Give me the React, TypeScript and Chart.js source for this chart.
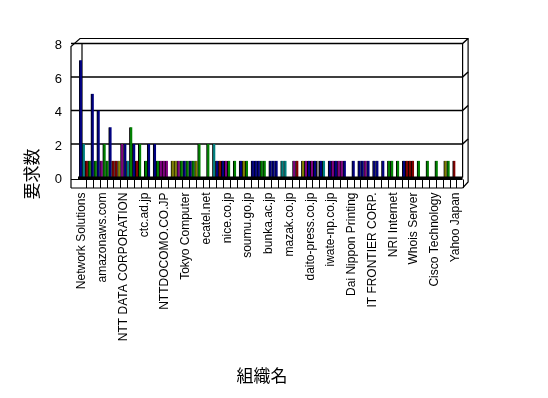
import React, { useEffect, useRef } from 'react';
import { Chart, registerables } from 'chart.js';

Chart.register(...registerables);

// Organisation names shown on the category axis (every 7th category is labelled)
const tickNames = [
  'Network Solutions', 'amazonaws.com', 'NTT DATA CORPORATION', 'ctc.ad.jp',
  'NTTDOCOMO.CO.JP', 'Tokyo Computer', 'ecatel.net', 'nice.co.jp', 'soumu.go.jp',
  'bunka.ac.jp', 'mazak.co.jp', 'daito-press.co.jp', 'iwate-np.co.jp',
  'Dai Nippon Printing', 'IT FRONTIER CORP.', 'NRI Internet', 'Whois Server',
  'Cisco Technology', 'Yahoo Japan',
];

// Request counts per organisation
const requestCounts = [
  7, 2, 1, 1, 5, 1, 4, 1, 2, 1, 3, 1, 1, 1, 2, 2, 1, 3, 2, 1,
  2, 0, 1, 2, 0, 2, 1, 1, 1, 1, 0, 1, 1, 1, 1, 1, 1, 1, 1, 1,
  2, 0, 0, 2, 0, 2, 1, 1, 1, 1, 1, 0, 1, 0, 1, 1, 1, 0, 1, 1,
  1, 1, 1, 0, 1, 1, 1, 0, 1, 1, 0, 0, 1, 1, 0, 1, 1, 1, 1, 1,
  1, 1, 1, 0, 1, 1, 1, 1, 1, 1, 0, 0, 1, 0, 1, 1, 1, 1, 0, 1,
  1, 0, 1, 0, 1, 1, 0, 1, 0, 1, 1, 1, 1, 0, 1, 0, 0, 1, 0, 0,
  1, 0, 0, 1, 1, 0, 1,
];

// Colour codes per bar (N navy, T teal, R dark red, G green, P purple, O olive, Y grey)
const barColorCodes = [
  'N', 'T', 'R', 'G', 'N', 'G', 'N', 'P', 'G', 'G', 'N', 'R', 'R', 'O', 'P', 'N', 'T', 'G', 'N', 'R',
  'G', 'N', 'G', 'N', 'N', 'N', 'G', 'P', 'P', 'P', 'N', 'O', 'O', 'P', 'G', 'N', 'G', 'N', 'G', 'O',
  'G', 'N', 'N', 'G', 'N', 'T', 'N', 'R', 'N', 'P', 'G', 'N', 'G', 'N', 'N', 'O', 'G', 'N', 'N', 'N',
  'N', 'G', 'G', 'N', 'N', 'N', 'N', 'N', 'T', 'T', 'N', 'N', 'P', 'R', 'N', 'O', 'P', 'N', 'P', 'N',
  'Y', 'N', 'T', 'N', 'N', 'P', 'N', 'P', 'P', 'N', 'N', 'N', 'N', 'N', 'N', 'N', 'P', 'N', 'N', 'N',
  'N', 'N', 'N', 'N', 'G', 'G', 'N', 'G', 'N', 'N', 'R', 'R', 'R', 'N', 'G', 'N', 'N', 'G', 'N', 'N',
  'G', 'N', 'N', 'O', 'G', 'N', 'R',
];

const palette: Record<string, string> = {
  N: '#000080', T: '#008080', R: '#800000', G: '#008000',
  P: '#800080', O: '#808000', Y: '#808080',
};

const categories = requestCounts.map((_, i) => (i % 7 === 0 ? tickNames[i / 7] : ''));

const yTitle = '要求数';
const xTitle = '組織名';

const framePlugin = {
  id: 'frame3d',
  beforeDatasetsDraw(chart: any) {
    const { ctx, chartArea: ca, scales } = chart;
    const y = scales.y;
    const fl = ca.left - 8;
    const fr = ca.right + 7;
    const br = ca.right + 12.5;
    const backTop = ca.top - 5;
    const floorBottom = ca.bottom + 10.5;
    ctx.save();
    ctx.strokeStyle = '#000';
    ctx.lineWidth = 1.5;
    [2, 4, 6, 8].forEach((v) => {
      const py = y.getPixelForValue(v);
      ctx.beginPath();
      ctx.moveTo(fl, py);
      ctx.lineTo(fr, py);
      ctx.lineTo(br, py - 5);
      ctx.stroke();
    });
    ctx.lineWidth = 1.2;
    ctx.beginPath();
    ctx.moveTo(fl, floorBottom);
    ctx.lineTo(fl, ca.top + 3);
    ctx.lineTo(fl + 9, backTop);
    ctx.lineTo(br, backTop);
    ctx.lineTo(br, floorBottom - 6);
    ctx.lineTo(fr, floorBottom);
    ctx.moveTo(ca.left + 3, ca.top);
    ctx.lineTo(ca.left + 3, ca.bottom);
    ctx.moveTo(fr, ca.top);
    ctx.lineTo(fr, ca.bottom);
    ctx.stroke();
    ctx.restore();
  },
  afterDatasetsDraw(chart: any) {
    const { ctx, chartArea: ca } = chart;
    const fl = ca.left - 8;
    const fr = ca.right + 7;
    const floorBottom = ca.bottom + 10.5;
    ctx.save();
    ctx.strokeStyle = '#000';
    ctx.lineWidth = 2.5;
    ctx.beginPath();
    ctx.moveTo(ca.left - 1, ca.bottom + 0.3);
    ctx.lineTo(fr, ca.bottom + 0.3);
    ctx.stroke();
    ctx.lineWidth = 1;
    ctx.beginPath();
    ctx.moveTo(fl, ca.bottom + 2);
    ctx.lineTo(fr, ca.bottom + 2);
    ctx.moveTo(fl, floorBottom);
    ctx.lineTo(fr, floorBottom);
    for (let x = ca.left + 7; x < fr - 2; x += 6.86) {
      const px = Math.round(x) + 0.5;
      ctx.moveTo(px, ca.bottom + 2);
      ctx.lineTo(px, floorBottom);
    }
    ctx.moveTo(Math.round(fr) + 0.5, ca.bottom + 2);
    ctx.lineTo(Math.round(fr) + 0.5, floorBottom);
    ctx.stroke();
    ctx.restore();
  },
  afterDraw(chart: any) {
    const { ctx } = chart;
    ctx.save();
    ctx.fillStyle = '#000';
    ctx.font = '17px "Noto Sans CJK JP", sans-serif';
    ctx.textAlign = 'center';
    ctx.textBaseline = 'middle';
    ctx.fillText(xTitle, 262, 376);
    ctx.translate(32, 174);
    ctx.rotate(-Math.PI / 2);
    ctx.fillText(yTitle, 0, 0);
    ctx.restore();
  },
};

export default function App() {
  const canvasRef = useRef<HTMLCanvasElement | null>(null);

  useEffect(() => {
    const canvas = canvasRef.current;
    if (!canvas) return;
    const chart = new Chart(canvas, {
      type: 'bar',
      data: {
        labels: categories,
        datasets: [
          {
            data: requestCounts,
            backgroundColor: barColorCodes.map((c) => palette[c]),
            borderColor: '#000',
            borderWidth: { left: 1, top: 0, right: 0, bottom: 0 },
            borderSkipped: false,
            categoryPercentage: 1,
            barPercentage: 1,
          },
        ],
      },
      options: {
        responsive: false,
        animation: false,
        events: [],
        layout: { padding: { left: 0, top: 43.5, right: 92.4, bottom: 0 } },
        plugins: { legend: { display: false }, tooltip: { enabled: false } },
        scales: {
          x: {
            grid: { display: false, drawTicks: false },
            border: { display: false },
            ticks: {
              autoSkip: false,
              maxRotation: 90,
              minRotation: 90,
              padding: 15,
              labelOffset: 1.5,
              color: '#000',
              font: { family: '"Liberation Sans", Arial, sans-serif', size: 12 },
            },
            afterFit(scale: any) {
              scale.height = 220.5;
            },
          },
          y: {
            min: 0,
            max: 8,
            grid: { display: false, drawTicks: false },
            border: { display: false },
            ticks: {
              stepSize: 2,
              padding: 17,
              labelOffset: 2,
              color: '#000',
              font: { family: '"Liberation Sans", Arial, sans-serif', size: 13 },
            },
            afterFit(scale: any) {
              scale.width = 79;
            },
          },
        },
      },
      plugins: [framePlugin],
    });
    return () => chart.destroy();
  }, []);

  return (
    <div style={{ position: 'fixed', left: 0, top: 0, width: 548, height: 398, background: '#fff' }}>
      <canvas ref={canvasRef} width={548} height={398} style={{ display: 'block' }} />
    </div>
  );
}
